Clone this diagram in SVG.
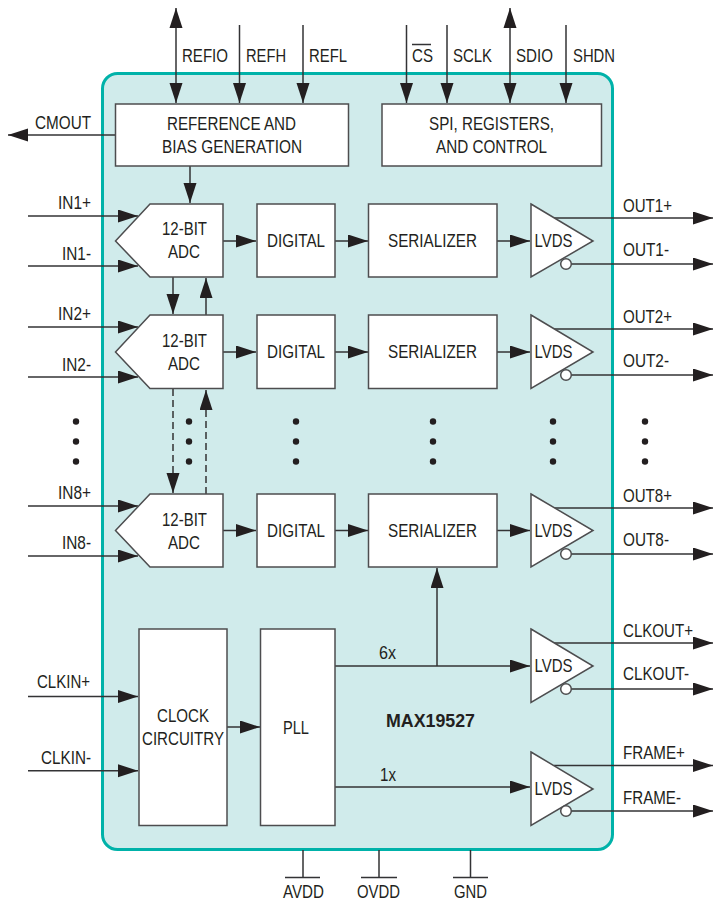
<svg xmlns="http://www.w3.org/2000/svg" width="713" height="902" viewBox="0 0 713 902">
<style>
text{font-family:"Liberation Sans",Arial,sans-serif;font-size:17.5px;fill:#231f20}
.m{text-anchor:middle}
.b{fill:#fff;stroke:#4d4d4f;stroke-width:1.5}
.c{fill:none;stroke:#333335;stroke-width:1.5}
.a{marker-end:url(#arrow)}
.s{marker-start:url(#arrowS)}
.d{stroke-dasharray:7 4}
.t{fill:#231f20}
</style>
<defs>
<marker id="arrow" markerUnits="userSpaceOnUse" markerWidth="20" markerHeight="14" refX="20" refY="6.500" orient="auto"><path d="M0,0L20,6.500L0,13z" fill="#231f20"/></marker>
<marker id="arrowS" markerUnits="userSpaceOnUse" markerWidth="20" markerHeight="14" refX="0" refY="6.500" orient="auto"><path d="M20,0L0,6.500L20,13z" fill="#231f20"/></marker>
</defs>
<rect id="chip" x="102.500" y="73.500" width="510" height="776" rx="15" fill="#d0ebeb" stroke="#00b2a9" stroke-width="3"/>
<g id="connectors">
<path class="c a s" d="M176,8V103"/><path class="c a" d="M239.500,25V103"/><path class="c a" d="M303,25V103"/>
<path class="c a" d="M406.500,25V103"/><path class="c a" d="M447,25V103"/><path class="c a s" d="M510,8V103"/><path class="c a" d="M566,25V103"/>
<path class="c a" d="M115,135H8"/><path class="c a" d="M190,166V203"/>
<path class="c a" d="M28,216H138"/><path class="c a" d="M28,266H138"/><path class="c a" d="M28,327H138"/><path class="c a" d="M28,377H138"/><path class="c a" d="M28,506H138"/><path class="c a" d="M28,556H138"/>
<path class="c a" d="M173,277V314"/><path class="c a" d="M206,315V278"/>
<path class="c a d" d="M173,389V493"/><path class="c a d" d="M206,494V390"/>
<path class="c a" d="M223,241H256"/><path class="c a" d="M335,241H368"/><path class="c a" d="M497,241H530"/>
<path class="c a" d="M223,352H256"/><path class="c a" d="M335,352H368"/><path class="c a" d="M497,352H530"/>
<path class="c a" d="M223,530.500H256"/><path class="c a" d="M335,530.500H368"/><path class="c a" d="M497,530.500H530"/>
<path class="c a" d="M554,218H713"/><path class="c a" d="M571,264H713"/><path class="c a" d="M554,329H713"/><path class="c a" d="M571,375H713"/><path class="c a" d="M554,508H713"/><path class="c a" d="M571,554H713"/>
<path class="c a" d="M554,643H713"/><path class="c a" d="M571,689H713"/><path class="c a" d="M554,765.500H713"/><path class="c a" d="M571,811H713"/>
<path class="c a" d="M28,696.500H138"/><path class="c a" d="M28,770.700H138"/><path class="c a" d="M227,727H260"/>
<path class="c a" d="M335,666H530"/><path class="c a" d="M437,666V568"/><path class="c a" d="M335,787H530"/>
<path class="c" d="M303,850V877M285,877.500H320"/><path class="c" d="M379,850V877M361,877.500H397"/><path class="c" d="M470.500,850V877M453,877.500H488"/>
</g>
<g id="ref"><rect class="b" x="115.500" y="104" width="233" height="62"/><text class="m" x="231.500" y="130" textLength="129" lengthAdjust="spacingAndGlyphs">REFERENCE AND</text><text class="m" x="232" y="153" textLength="140" lengthAdjust="spacingAndGlyphs">BIAS GENERATION</text></g>
<g id="spi"><rect class="b" x="382" y="104" width="219.500" height="62"/><text class="m" x="491.500" y="130" textLength="125" lengthAdjust="spacingAndGlyphs">SPI, REGISTERS,</text><text class="m" x="491.500" y="153" textLength="111" lengthAdjust="spacingAndGlyphs">AND CONTROL</text></g>
<g id="adc1"><path class="b" d="M115.500,241L150,204H223V277H150z"/><text class="m" x="184.500" y="235" textLength="45" lengthAdjust="spacingAndGlyphs">12-BIT</text><text class="m" x="184" y="258" textLength="32" lengthAdjust="spacingAndGlyphs">ADC</text></g>
<g id="adc2"><path class="b" d="M115.500,352L150,315H223V388.500H150z"/><text class="m" x="184.500" y="347" textLength="45" lengthAdjust="spacingAndGlyphs">12-BIT</text><text class="m" x="184" y="370" textLength="32" lengthAdjust="spacingAndGlyphs">ADC</text></g>
<g id="adc8"><path class="b" d="M115.500,530.500L150,494H223V567H150z"/><text class="m" x="184.500" y="526" textLength="45" lengthAdjust="spacingAndGlyphs">12-BIT</text><text class="m" x="184" y="549" textLength="32" lengthAdjust="spacingAndGlyphs">ADC</text></g>
<g id="digital1"><rect class="b" x="257" y="204" width="78" height="73"/><text class="m" x="296" y="247" textLength="58" lengthAdjust="spacingAndGlyphs">DIGITAL</text></g>
<g id="digital2"><rect class="b" x="257" y="315" width="78" height="73.500"/><text class="m" x="296" y="358" textLength="58" lengthAdjust="spacingAndGlyphs">DIGITAL</text></g>
<g id="digital8"><rect class="b" x="257" y="494" width="78" height="73"/><text class="m" x="296" y="537" textLength="58" lengthAdjust="spacingAndGlyphs">DIGITAL</text></g>
<g id="ser1"><rect class="b" x="368.500" y="204" width="128.500" height="73"/><text class="m" x="432.500" y="247" textLength="89" lengthAdjust="spacingAndGlyphs">SERIALIZER</text></g>
<g id="ser2"><rect class="b" x="368.500" y="315" width="128.500" height="73.500"/><text class="m" x="432.500" y="358" textLength="89" lengthAdjust="spacingAndGlyphs">SERIALIZER</text></g>
<g id="ser8"><rect class="b" x="368.500" y="494" width="128.500" height="73"/><text class="m" x="432.500" y="537" textLength="89" lengthAdjust="spacingAndGlyphs">SERIALIZER</text></g>
<g id="lvds1"><path class="b" d="M531,204L593,241L531,277z"/><circle class="b" cx="566" cy="264" r="5.300"/><text class="m" x="553.500" y="247" textLength="38" lengthAdjust="spacingAndGlyphs">LVDS</text></g>
<g id="lvds2"><path class="b" d="M531,315L593,352L531,388.500z"/><circle class="b" cx="566" cy="375" r="5.300"/><text class="m" x="553.500" y="358" textLength="38" lengthAdjust="spacingAndGlyphs">LVDS</text></g>
<g id="lvds8"><path class="b" d="M531,494L593,530.500L531,567z"/><circle class="b" cx="566" cy="554" r="5.300"/><text class="m" x="553.500" y="537" textLength="38" lengthAdjust="spacingAndGlyphs">LVDS</text></g>
<g id="lvdsclk"><path class="b" d="M531,629L593,666L531,702.500z"/><circle class="b" cx="566" cy="689" r="5.300"/><text class="m" x="553.500" y="672" textLength="38" lengthAdjust="spacingAndGlyphs">LVDS</text></g>
<g id="lvdsframe"><path class="b" d="M531,752L593,789L531,825.500z"/><circle class="b" cx="566" cy="811" r="5.300"/><text class="m" x="553.500" y="795" textLength="38" lengthAdjust="spacingAndGlyphs">LVDS</text></g>
<g id="clock"><rect class="b" x="139" y="629" width="88" height="196.500"/><text class="m" x="183" y="722" textLength="52" lengthAdjust="spacingAndGlyphs">CLOCK</text><text class="m" x="183" y="745" textLength="82" lengthAdjust="spacingAndGlyphs">CIRCUITRY</text></g>
<g id="pll"><rect class="b" x="260.500" y="629" width="74.500" height="196.500"/><text class="m" x="296" y="733.500" textLength="26" lengthAdjust="spacingAndGlyphs">PLL</text></g>
<g id="dots">
<circle class="t" cx="76" cy="421.500" r="3.200"/><circle class="t" cx="76" cy="441.500" r="3.200"/><circle class="t" cx="76" cy="461.500" r="3.200"/>
<circle class="t" cx="189" cy="421.500" r="3.200"/><circle class="t" cx="189" cy="441.500" r="3.200"/><circle class="t" cx="189" cy="461.500" r="3.200"/>
<circle class="t" cx="296" cy="421.500" r="3.200"/><circle class="t" cx="296" cy="441.500" r="3.200"/><circle class="t" cx="296" cy="461.500" r="3.200"/>
<circle class="t" cx="433" cy="421.500" r="3.200"/><circle class="t" cx="433" cy="441.500" r="3.200"/><circle class="t" cx="433" cy="461.500" r="3.200"/>
<circle class="t" cx="553" cy="421.500" r="3.200"/><circle class="t" cx="553" cy="441.500" r="3.200"/><circle class="t" cx="553" cy="461.500" r="3.200"/>
<circle class="t" cx="645" cy="421.500" r="3.200"/><circle class="t" cx="645" cy="441.500" r="3.200"/><circle class="t" cx="645" cy="461.500" r="3.200"/>
</g>
<g id="labels">
<text x="182" y="62" textLength="46" lengthAdjust="spacingAndGlyphs">REFIO</text>
<text x="246" y="62" textLength="40" lengthAdjust="spacingAndGlyphs">REFH</text>
<text x="309" y="62" textLength="38" lengthAdjust="spacingAndGlyphs">REFL</text>
<text x="412" y="62" textLength="21" lengthAdjust="spacingAndGlyphs">CS</text><path class="c" d="M412,44.500H431"/>
<text x="453" y="62" textLength="39" lengthAdjust="spacingAndGlyphs">SCLK</text>
<text x="516" y="62" textLength="37" lengthAdjust="spacingAndGlyphs">SDIO</text>
<text x="573" y="62" textLength="42" lengthAdjust="spacingAndGlyphs">SHDN</text>
<text x="35" y="129" textLength="56" lengthAdjust="spacingAndGlyphs">CMOUT</text>
<text x="58" y="209" textLength="33" lengthAdjust="spacingAndGlyphs">IN1+</text>
<text x="62" y="260" textLength="29" lengthAdjust="spacingAndGlyphs">IN1-</text>
<text x="58" y="320" textLength="33" lengthAdjust="spacingAndGlyphs">IN2+</text>
<text x="62" y="371" textLength="29" lengthAdjust="spacingAndGlyphs">IN2-</text>
<text x="58" y="499" textLength="33" lengthAdjust="spacingAndGlyphs">IN8+</text>
<text x="62" y="549" textLength="29" lengthAdjust="spacingAndGlyphs">IN8-</text>
<text x="37" y="688" textLength="53" lengthAdjust="spacingAndGlyphs">CLKIN+</text>
<text x="41" y="764" textLength="50" lengthAdjust="spacingAndGlyphs">CLKIN-</text>
<text x="623" y="212" textLength="49" lengthAdjust="spacingAndGlyphs">OUT1+</text>
<text x="623" y="256" textLength="46" lengthAdjust="spacingAndGlyphs">OUT1-</text>
<text x="623" y="323" textLength="49" lengthAdjust="spacingAndGlyphs">OUT2+</text>
<text x="623" y="367" textLength="46" lengthAdjust="spacingAndGlyphs">OUT2-</text>
<text x="623" y="502" textLength="49" lengthAdjust="spacingAndGlyphs">OUT8+</text>
<text x="623" y="546" textLength="46" lengthAdjust="spacingAndGlyphs">OUT8-</text>
<text x="623" y="637" textLength="70" lengthAdjust="spacingAndGlyphs">CLKOUT+</text>
<text x="623" y="680" textLength="66" lengthAdjust="spacingAndGlyphs">CLKOUT-</text>
<text x="623" y="759" textLength="62" lengthAdjust="spacingAndGlyphs">FRAME+</text>
<text x="623" y="804" textLength="58" lengthAdjust="spacingAndGlyphs">FRAME-</text>
<text x="379" y="659" textLength="17" lengthAdjust="spacingAndGlyphs">6x</text>
<text x="380" y="781" textLength="16" lengthAdjust="spacingAndGlyphs">1x</text>
<text x="386" y="727" textLength="89" lengthAdjust="spacingAndGlyphs" style="font-weight:700">MAX19527</text>
<text x="283" y="898" textLength="41" lengthAdjust="spacingAndGlyphs">AVDD</text>
<text x="357" y="898" textLength="43" lengthAdjust="spacingAndGlyphs">OVDD</text>
<text x="454" y="898" textLength="33" lengthAdjust="spacingAndGlyphs">GND</text>
</g>
</svg>
